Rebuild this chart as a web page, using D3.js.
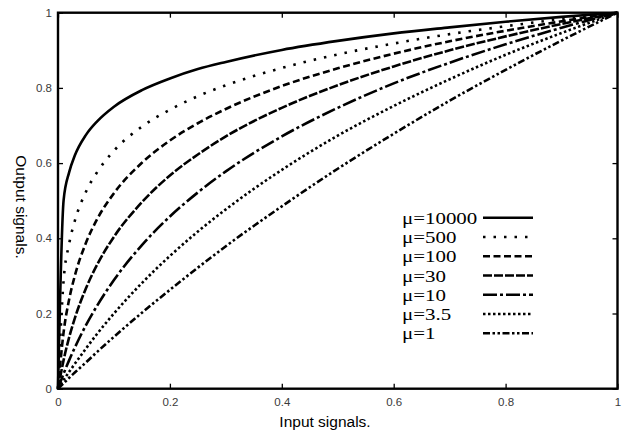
<!DOCTYPE html>
<html>
<head>
<meta charset="utf-8">
<script src="https://cdn.jsdelivr.net/npm/d3@7"></script>
<style>
  body { margin: 0; background: #fff; }
  svg { display: block; }
</style>
</head>
<body>
<div id="chart"></div>
<script>
// Input signal positions where the curves were read
var inputs = [0, 0.01, 0.02, 0.03, 0.05, 0.07, 0.1, 0.15, 0.2, 0.25, 0.3, 0.4, 0.5, 0.6, 0.7, 0.8, 0.9, 1];

// Output signal for each mu
var mu10000 = [0, 0.501, 0.576, 0.620, 0.675, 0.711, 0.750, 0.794, 0.825, 0.850, 0.869, 0.901, 0.925, 0.945, 0.961, 0.976, 0.989, 1];
var mu500   = [0, 0.288, 0.386, 0.446, 0.524, 0.576, 0.633, 0.697, 0.742, 0.778, 0.807, 0.853, 0.889, 0.918, 0.943, 0.964, 0.983, 1];
var mu100   = [0, 0.150, 0.238, 0.300, 0.388, 0.451, 0.520, 0.601, 0.660, 0.706, 0.744, 0.805, 0.852, 0.891, 0.924, 0.952, 0.977, 1];
var mu30    = [0, 0.076, 0.137, 0.187, 0.267, 0.330, 0.404, 0.496, 0.567, 0.623, 0.671, 0.747, 0.807, 0.857, 0.900, 0.937, 0.970, 1];
var mu10    = [0, 0.040, 0.076, 0.109, 0.169, 0.221, 0.289, 0.382, 0.458, 0.522, 0.578, 0.671, 0.747, 0.812, 0.867, 0.916, 0.960, 1];
var mu3_5   = [0, 0.023, 0.045, 0.066, 0.107, 0.146, 0.200, 0.281, 0.353, 0.418, 0.477, 0.582, 0.673, 0.752, 0.823, 0.888, 0.946, 1];
var mu1     = [0, 0.014, 0.029, 0.043, 0.070, 0.098, 0.138, 0.202, 0.263, 0.322, 0.379, 0.485, 0.585, 0.678, 0.766, 0.848, 0.926, 1];

var labels = ["\u03bc=10000", "\u03bc=500", "\u03bc=100", "\u03bc=30", "\u03bc=10", "\u03bc=3.5", "\u03bc=1"];
var dashes = ["none", "2.5,8", "7,3.5", "9,2", "14,3,3,3", "2.5,2.5", "7,2.5,2.5,2.5,2.5,2.5"];
var xTicks = [0, 0.2, 0.4, 0.6, 0.8, 1];
var yTicks = [0, 0.2, 0.4, 0.6, 0.8, 1];

var series = [mu10000, mu500, mu100, mu30, mu10, mu3_5, mu1];

var width = 623, height = 432;

var svg = d3.select("#chart").append("svg")
    .attr("width", width)
    .attr("height", height);

var x = d3.scaleLinear().domain([0, 1]).range([58, 617.5]);
var y = d3.scaleLinear().domain([0, 1]).range([388.7, 12.7]);

// Axes, ticks point inward
function styleAxis(g) {
  g.select(".domain").remove();
  g.selectAll(".tick line").attr("stroke", "#000").attr("stroke-width", 1.3);
  g.selectAll(".tick text")
      .attr("fill", "#3a3a3a")
      .style("font-family", "Arial, 'Liberation Sans', sans-serif")
      .style("font-size", "11.5px");
}

svg.append("g")
    .attr("transform", "translate(0," + y(0) + ")")
    .call(d3.axisBottom(x).tickValues(xTicks).tickSize(-5).tickPadding(9)
      .tickFormat(d3.format("")))
    .call(styleAxis);

svg.append("g")
    .attr("transform", "translate(0," + y(1) + ")")
    .call(d3.axisTop(x).tickValues(xTicks).tickSize(-5).tickFormat(""))
    .call(styleAxis);

svg.append("g")
    .attr("transform", "translate(" + x(0) + ",0)")
    .call(d3.axisLeft(y).tickValues(yTicks).tickSize(-5).tickPadding(6)
      .tickFormat(d3.format("")))
    .call(styleAxis);

svg.append("g")
    .attr("transform", "translate(" + x(1) + ",0)")
    .call(d3.axisRight(y).tickValues(yTicks).tickSize(-5).tickFormat(""))
    .call(styleAxis);

// Curves
var line = d3.line()
    .x(function(d, i) { return x(inputs[i]); })
    .y(function(d) { return y(d); })
    .curve(d3.curveMonotoneX);

svg.append("g")
    .attr("class", "curves")
  .selectAll("path")
    .data(series)
  .enter().append("path")
    .attr("d", line)
    .attr("fill", "none")
    .attr("stroke", "#000")
    .attr("stroke-width", 2.6)
    .attr("stroke-dasharray", function(d, i) { return dashes[i]; });

// Frame
svg.append("rect")
    .attr("x", x(0))
    .attr("y", y(1))
    .attr("width", x(1) - x(0))
    .attr("height", y(0) - y(1))
    .attr("fill", "none")
    .attr("stroke", "#000")
    .attr("stroke-width", 2.4);

// Legend
var legend = svg.append("g")
    .attr("class", "legend");

var row = legend.selectAll(".row")
    .data(labels)
  .enter().append("g")
    .attr("class", "row")
    .attr("transform", function(d, i) {
      return "translate(0," + (217.7 + i * 19.27) + ")";
    });

// serif labels, stretched sideways like the original
row.append("text")
    .attr("transform", "translate(402,6) scale(1.26,1)")
    .style("font-family", "'Liberation Serif', 'Times New Roman', serif")
    .style("font-size", "16.6px")
    .text(function(d) { return d; });

row.append("line")
    .attr("x1", 483)
    .attr("x2", 533)
    .attr("stroke", "#000")
    .attr("stroke-width", 2.6)
    .attr("stroke-dasharray", function(d, i) { return dashes[i]; });

// Axis titles
svg.append("text")
    .attr("x", 325)
    .attr("y", 427)
    .attr("text-anchor", "middle")
    .style("font-family", "Arial, 'Liberation Sans', sans-serif")
    .style("font-size", "15.5px")
    .text("Input signals.");

svg.append("text")
    .attr("transform", "translate(16,207) rotate(90)")
    .attr("text-anchor", "middle")
    .style("font-family", "Arial, 'Liberation Sans', sans-serif")
    .style("font-size", "15.5px")
    .text("Output signals.");
</script>
</body>
</html>
